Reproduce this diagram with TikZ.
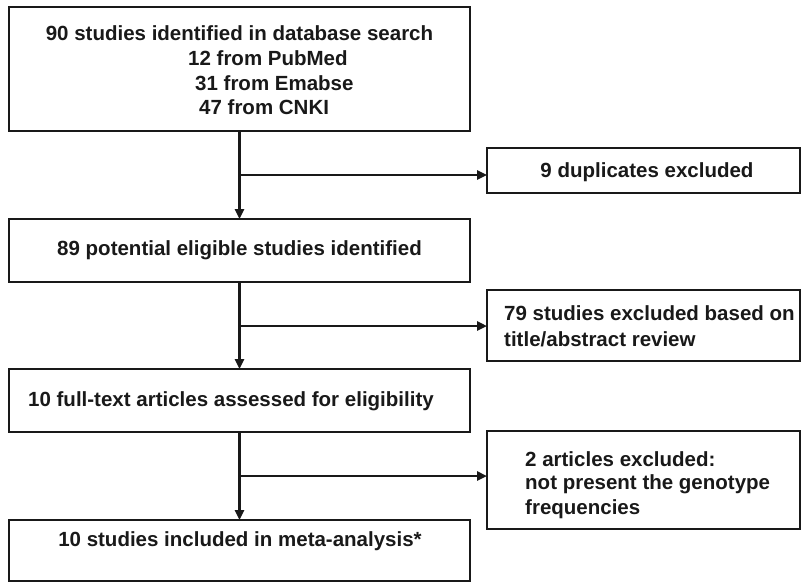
\documentclass[tikz,border=0pt]{standalone}
\usepackage{fontspec}
\setmainfont{Liberation Sans}
\usetikzlibrary{arrows.meta}
\begin{document}
\begin{tikzpicture}[x=1pt,y=-1pt,
  box/.style={draw=black!90, line width=2.4pt, inner sep=0pt, outer sep=0pt},
  txt/.style={inner sep=0pt, font=\fontsize{20.5}{25}\selectfont\bfseries, text=black!90},
  arr/.style={draw=black!90, line width=2.4pt, -{Triangle[length=10pt,width=9pt]}}]
\useasboundingbox (0,0) rectangle (801,582);
% left boxes
\node[box, minimum width=461pt, minimum height=124pt] (b1) at (239.5,69) {};
\node[box, minimum width=461pt, minimum height=63pt] (b2) at (239.5,250.5) {};
\node[box, minimum width=461pt, minimum height=63pt] (b3) at (239.5,400.5) {};
\node[box, minimum width=461pt, minimum height=61pt] (b4) at (239.5,550.5) {};
% right boxes
\node[box, minimum width=313pt, minimum height=45pt] (r1) at (643.5,170.5) {};
\node[box, minimum width=313pt, minimum height=71pt] (r2) at (643.5,325.5) {};
\node[box, minimum width=313pt, minimum height=98pt] (r3) at (643.5,480) {};
% texts
\node[txt] (t1a) at (239.5,33) {90 studies identified in database search};
\node[txt, anchor=west] (t1b) at (188,58) {12 from PubMed};
\node[txt, anchor=west] (t1c) at (195,83) {31 from Emabse};
\node[txt, anchor=west] (t1d) at (199,107) {47 from CNKI};
\node[txt] (t2) at (239.5,250) {89 potential eligible studies identified};
\node[txt] (t3) at (231,401) {10 full-text articles assessed for eligibility};
\node[txt] (t4) at (240,541) {10 studies included in meta-analysis*};
\node[txt] (tr1) at (647,172) {9 duplicates excluded};
\node[txt, anchor=west] (tr2a) at (504,313) {79 studies excluded based on};
\node[txt, anchor=west] (tr2b) at (504,339) {title/abstract review};
\node[txt, anchor=west] (tr3a) at (525,459) {2 articles excluded:};
\node[txt, anchor=west] (tr3b) at (525,484) {not present the genotype};
\node[txt, anchor=west] (tr3c) at (525,509) {frequencies};
% connectors
\coordinate (j1) at (239.5,175);
\coordinate (j2) at (239.5,326);
\coordinate (j3) at (239.5,476);
\draw[arr] (b1.south) -- (b2.north);
\draw[arr] (b2.south) -- (b3.north);
\draw[arr] (b3.south) -- (b4.north);
\draw[arr] (j1) -- (j1 -| r1.west);
\draw[arr] (j2) -- (j2 -| r2.west);
\draw[arr] (j3) -- (j3 -| r3.west);
\end{tikzpicture}
\end{document}
